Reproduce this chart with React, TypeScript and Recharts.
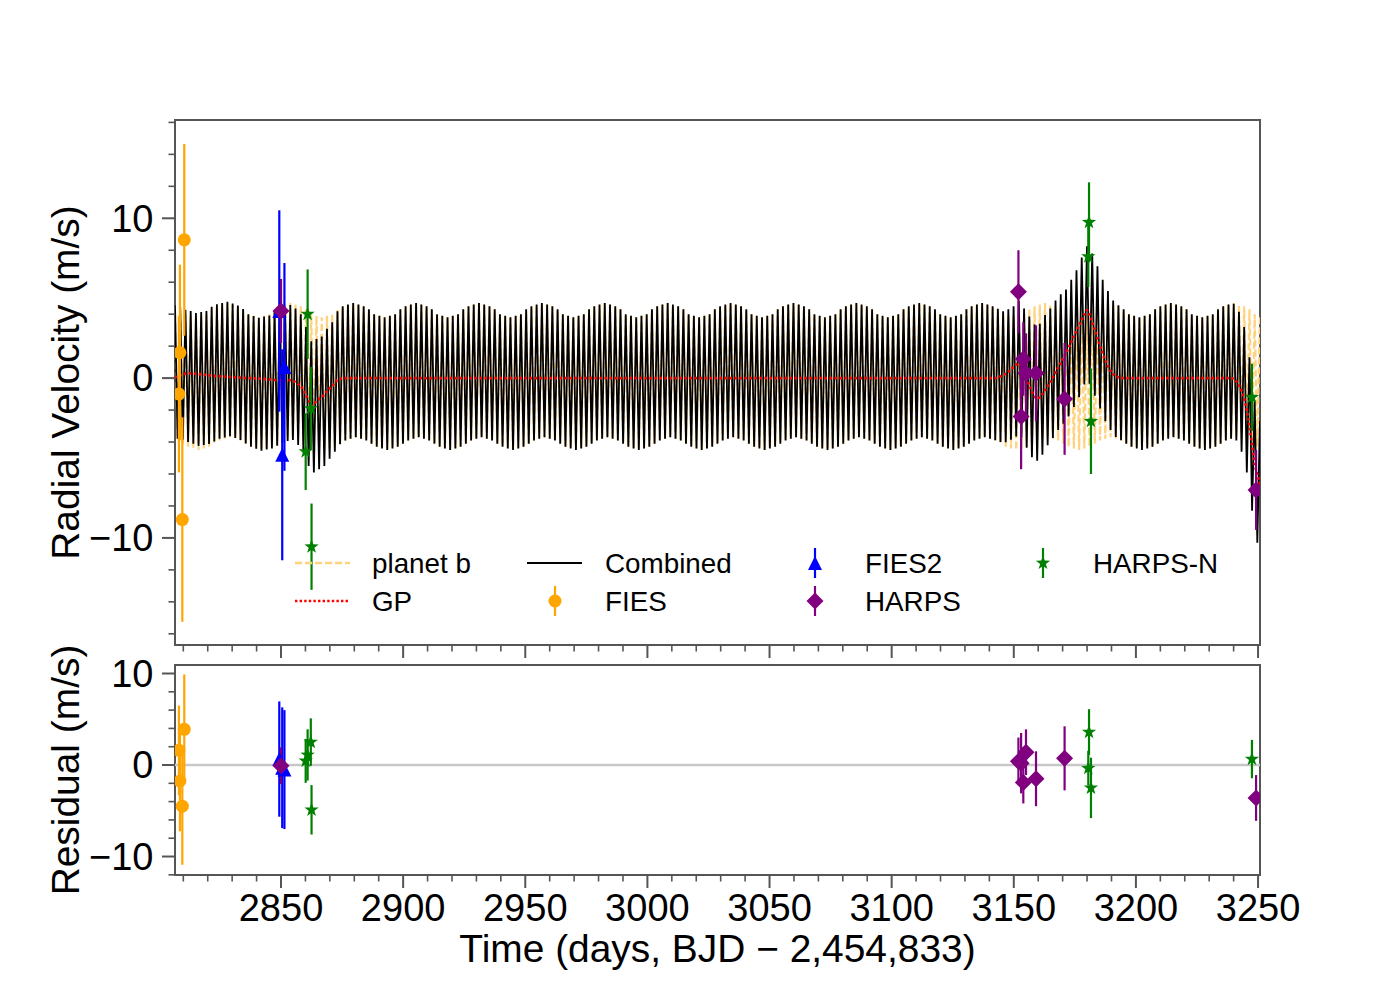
import React from 'react'
import { ComposedChart, Line, Scatter, XAxis, YAxis, ErrorBar, ReferenceLine, ReferenceArea, Legend } from 'recharts'

const FONT = '"Liberation Sans", Arial, Helvetica, sans-serif'
const AXIS = '#555'
const PLANET_COLOR = '#ffd27f'

// model curves, one sample per peak / trough of planet b (every 1.0729 d from 2802.3)
const modelStart = 2802.3
const modelStep = 1.0729

const planetB = [
  4.7, -3.7, 4.6, -3.8, 4.5, -3.9, 4.3, -4.1, 4.0, -4.3, 3.9, -4.4, 3.8, -4.5, 3.9, -4.4, 4.0, -4.3, 4.3, -4.1, 4.5, -3.9, 4.6, -3.8,
  4.7, -3.7, 4.6, -3.8, 4.5, -3.9, 4.3, -4.1, 4.0, -4.3, 3.9, -4.4, 3.8, -4.5, 3.9, -4.4, 4.0, -4.3, 4.3, -4.1, 4.5, -3.9, 4.6, -3.8,
  4.7, -3.7, 4.6, -3.8, 4.5, -3.9, 4.3, -4.1, 4.0, -4.3, 3.9, -4.4, 3.8, -4.5, 3.9, -4.4, 4.0, -4.3, 4.3, -4.1, 4.5, -3.9, 4.6, -3.8,
  4.7, -3.7, 4.6, -3.8, 4.5, -3.9, 4.3, -4.1, 4.0, -4.3, 3.9, -4.4, 3.8, -4.5, 3.9, -4.4, 4.0, -4.3, 4.3, -4.1, 4.5, -3.9, 4.6, -3.8,
  4.7, -3.7, 4.6, -3.8, 4.5, -3.9, 4.3, -4.1, 4.0, -4.3, 3.9, -4.4, 3.8, -4.5, 3.9, -4.4, 4.0, -4.3, 4.3, -4.1, 4.5, -3.9, 4.6, -3.8,
  4.7, -3.7, 4.6, -3.8, 4.5, -3.9, 4.3, -4.1, 4.0, -4.3, 3.9, -4.4, 3.8, -4.5, 3.9, -4.4, 4.0, -4.3, 4.3, -4.1, 4.5, -3.9, 4.6, -3.8,
  4.7, -3.7, 4.6, -3.8, 4.5, -3.9, 4.3, -4.1, 4.0, -4.3, 3.9, -4.4, 3.8, -4.5, 3.9, -4.4, 4.0, -4.3, 4.3, -4.1, 4.5, -3.9, 4.6, -3.8,
  4.7, -3.7, 4.6, -3.8, 4.5, -3.9, 4.3, -4.1, 4.0, -4.3, 3.9, -4.4, 3.8, -4.5, 3.9, -4.4, 4.0, -4.3, 4.3, -4.1, 4.5, -3.9, 4.6, -3.8,
  4.7, -3.7, 4.6, -3.8, 4.5, -3.9, 4.3, -4.1, 4.0, -4.3, 3.9, -4.4, 3.8, -4.5, 3.9, -4.4, 4.0, -4.3, 4.3, -4.1, 4.5, -3.9, 4.6, -3.8,
  4.7, -3.7, 4.6, -3.8, 4.5, -3.9, 4.3, -4.1, 4.0, -4.3, 3.9, -4.4, 3.8, -4.5, 3.9, -4.4, 4.0, -4.3, 4.3, -4.1, 4.5, -3.9, 4.6, -3.8,
  4.7, -3.7, 4.6, -3.8, 4.5, -3.9, 4.3, -4.1, 4.0, -4.3, 3.9, -4.4, 3.8, -4.5, 3.9, -4.4, 4.0, -4.3, 4.3, -4.1, 4.5, -3.9, 4.6, -3.8,
  4.7, -3.7, 4.6, -3.8, 4.5, -3.9, 4.3, -4.1, 4.0, -4.3, 3.9, -4.4, 3.8, -4.5, 3.9, -4.4, 4.0, -4.3, 4.3, -4.1, 4.5, -3.9, 4.6, -3.8,
  4.7, -3.7, 4.6, -3.8, 4.5, -3.9, 4.3, -4.1, 4.0, -4.3, 3.9, -4.4, 3.8, -4.5, 3.9, -4.4, 4.0, -4.3, 4.3, -4.1, 4.5, -3.9, 4.6, -3.8,
  4.7, -3.7, 4.6, -3.8, 4.5, -3.9, 4.3, -4.1, 4.0, -4.3, 3.9, -4.4, 3.8, -4.5, 3.9, -4.4, 4.0, -4.3, 4.3, -4.1, 4.5, -3.9, 4.6, -3.8,
  4.7, -3.7, 4.6, -3.8, 4.5, -3.9, 4.3, -4.1, 4.0, -4.3, 3.9, -4.4, 3.8, -4.5, 3.9, -4.4, 4.0, -4.3, 4.3, -4.1, 4.5, -3.9, 4.6, -3.8,
  4.7, -3.7, 4.6, -3.8, 4.5, -3.9, 4.3, -4.1, 4.0, -4.3, 3.9, -4.4, 3.8, -4.5, 3.9, -4.4, 4.0, -4.3, 4.3, -4.1, 4.5, -3.9, 4.6, -3.8,
  4.7, -3.7, 4.6, -3.8, 4.5, -3.9, 4.3, -4.1, 4.0, -4.3, 3.9, -4.4, 3.8, -4.5, 3.9, -4.4, 4.0, -4.3, 4.3, -4.1, 4.5, -3.9, 4.6, -3.8,
  4.7, -3.7, 4.6, -3.8, 4.5, -3.9, 4.3, -4.1, 4.0, -4.3, 3.9, -4.4,
]

// GP, same samples
const gp = [
  0, 0, 0, 0.02, 0.05, 0.1, 0.17, 0.24, 0.28, 0.3, 0.3, 0.29, 0.27, 0.25, 0.23, 0.21, 0.2, 0.18, 0.16, 0.14, 0.12, 0.11, 0.1, 0.09,
  0.08, 0.07, 0.06, 0.05, 0.04, 0.03, 0.02, 0.01, 0, 0, -0.01, -0.02, -0.03, -0.04, -0.05, -0.07, -0.08, -0.1, -0.12, -0.13, -0.14, -0.15, -0.15, -0.13,
  -0.13, -0.17, -0.25, -0.38, -0.5, -0.75, -1.1, -1.4, -1.7, -1.6, -1.45, -1.3, -1.2, -1.0, -0.82, -0.65, -0.5, -0.3, -0.12, -0.04, 0, 0, 0, 0,
  0, 0, 0, 0, 0, 0, 0, 0, 0, 0, 0, 0, 0, 0, 0, 0, 0, 0, 0, 0, 0, 0, 0, 0,
  0, 0, 0, 0, 0, 0, 0, 0, 0, 0, 0, 0, 0, 0, 0, 0, 0, 0, 0, 0, 0, 0, 0, 0,
  0, 0, 0, 0, 0, 0, 0, 0, 0, 0, 0, 0, 0, 0, 0, 0, 0, 0, 0, 0, 0, 0, 0, 0,
  0, 0, 0, 0, 0, 0, 0, 0, 0, 0, 0, 0, 0, 0, 0, 0, 0, 0, 0, 0, 0, 0, 0, 0,
  0, 0, 0, 0, 0, 0, 0, 0, 0, 0, 0, 0, 0, 0, 0, 0, 0, 0, 0, 0, 0, 0, 0, 0,
  0, 0, 0, 0, 0, 0, 0, 0, 0, 0, 0, 0, 0, 0, 0, 0, 0, 0, 0, 0, 0, 0, 0, 0,
  0, 0, 0, 0, 0, 0, 0, 0, 0, 0, 0, 0, 0, 0, 0, 0, 0, 0, 0, 0, 0, 0, 0, 0,
  0, 0, 0, 0, 0, 0, 0, 0, 0, 0, 0, 0, 0, 0, 0, 0, 0, 0, 0, 0, 0, 0, 0, 0,
  0, 0, 0, 0, 0, 0, 0, 0, 0, 0, 0, 0, 0, 0, 0, 0, 0, 0, 0, 0, 0, 0, 0, 0,
  0, 0, 0, 0, 0, 0, 0, 0, 0, 0, 0, 0, 0, 0, 0, 0, 0, 0, 0, 0, 0, 0, 0, 0,
  0, 0, 0, 0, 0, 0.01, 0.04, 0.1, 0.18, 0.28, 0.4, 0.55, 0.7, 0.85, 0.92, 0.7, 0.35, -0.05, -0.45, -0.85, -1.15, -1.27, -1.2, -1.0,
  -0.75, -0.5, -0.25, 0.05, 0.35, 0.65, 0.95, 1.25, 1.55, 1.9, 2.25, 2.6, 2.95, 3.3, 3.65, 4.0, 4.25, 3.95, 3.5, 3.0, 2.5, 2.0, 1.55, 1.1,
  0.75, 0.45, 0.25, 0.12, 0.05, 0.02, 0, 0, 0, 0, 0, 0, 0, 0, 0, 0, 0, 0, 0, 0, 0, 0, 0, 0,
  0, 0, 0, 0, 0, 0, 0, 0, 0, 0, 0, 0, 0, 0, 0, 0, 0, 0, 0, 0, 0, 0, 0, 0,
  -0.05, -0.2, -0.45, -0.8, -1.3, -2.0, -3.0, -4.2, -5.4, -6.0, -6.6, -7.2,
]

// instruments
const fiesTime = [2808.2, 2808.6, 2809.6, 2810.4]
const fiesRv = [-1.0, 1.6, -8.85, 8.65]
const fiesErr = [4.9, 5.5, 6.4, 6.0]
const fiesResid = [1.6, -1.75, -4.5, 3.9]

const fies2Time = [2849.3, 2850.5, 2851.4]
const fies2Rv = [4.2, -4.8, 0.7]
const fies2Err = [6.3, 6.6, 6.5]
const fies2Resid = [0.65, -0.3, -0.5]

const harpsTime = [2850.0, 3151.9, 3153.0, 3153.9, 3155.0, 3159.1, 3170.8, 3249.2]
const harpsRv = [4.2, 5.4, -2.4, 1.2, 0.3, 0.3, -1.3, -7.0]
const harpsErr = [2.0, 2.6, 3.3, 2.3, 2.5, 3.0, 3.5, 2.5]
const harpsResid = [-0.07, 0.4, 0.2, -1.9, 1.4, -1.5, 0.73, -3.6]

const harpsnTime = [2860.1, 2860.9, 2862.2, 2862.5, 3180.5, 3180.8, 3181.6, 3247.5]
const harpsnRv = [-4.6, 4.0, -1.9, -10.55, 7.6, 9.75, -2.7, -1.2]
const harpsnErr = [2.4, 2.8, 2.6, 2.7, 1.9, 2.5, 3.3, 2.1]
const harpsnResid = [0.45, 1.1, 2.5, -4.9, -0.35, 3.6, -2.5, 0.65]

// axes
const xDomain = [2806.6, 3250.8]
const xTicks = [
  2810, 2820, 2830, 2840, 2850, 2860, 2870, 2880, 2890, 2900, 2910, 2920, 2930, 2940, 2950,
  2960, 2970, 2980, 2990, 3000, 3010, 3020, 3030, 3040, 3050, 3060, 3070, 3080, 3090, 3100,
  3110, 3120, 3130, 3140, 3150, 3160, 3170, 3180, 3190, 3200, 3210, 3220, 3230, 3240, 3250,
]
const xLabels = [2850, 2900, 2950, 3000, 3050, 3100, 3150, 3200, 3250]
const rvDomain = [-16.7, 16.15]
const rvTicks = [-16, -14, -12, -10, -8, -6, -4, -2, 0, 2, 4, 6, 8, 10, 12, 14, 16]
const residDomain = [-12.02, 10.93]
const residTicks = [-12, -10, -8, -6, -4, -2, 0, 2, 4, 6, 8, 10]
const yLabels = [-10, 0, 10]

const modelRows = planetB.map((v, i) => ({
  t: modelStart + i * modelStep,
  planetB: v,
  gp: gp[i],
  combined: v + gp[i],
}))

type Shape = 'circle' | 'triangle' | 'diamond' | 'star'

const instruments = [
  { name: 'FIES', color: '#ffa500', shape: 'circle' as Shape, time: fiesTime, rv: fiesRv, err: fiesErr, resid: fiesResid },
  { name: 'FIES2', color: '#0000ff', shape: 'triangle' as Shape, time: fies2Time, rv: fies2Rv, err: fies2Err, resid: fies2Resid },
  { name: 'HARPS', color: '#800080', shape: 'diamond' as Shape, time: harpsTime, rv: harpsRv, err: harpsErr, resid: harpsResid },
  { name: 'HARPS-N', color: '#008000', shape: 'star' as Shape, time: harpsnTime, rv: harpsnRv, err: harpsnErr, resid: harpsnResid },
]

function Marker({ shape, cx, cy, color }: { shape: Shape; cx: number; cy: number; color: string }) {
  if (cx == null || cy == null) return null
  if (shape === 'circle') return <circle cx={cx} cy={cy} r={6.5} fill={color} />
  if (shape === 'triangle') {
    const r = 7
    return <path d={`M${cx},${cy - r}L${cx + r},${cy + r}L${cx - r},${cy + r}Z`} fill={color} />
  }
  if (shape === 'diamond') {
    const r = 8.5
    return <path d={`M${cx},${cy - r}L${cx + r},${cy}L${cx},${cy + r}L${cx - r},${cy}Z`} fill={color} />
  }
  const pts: string[] = []
  for (let k = 0; k < 10; k++) {
    const a = (-90 + k * 36) * Math.PI / 180
    const r = k % 2 === 0 ? 7.5 : 3
    pts.push(`${cx + r * Math.cos(a)},${cy + r * Math.sin(a)}`)
  }
  return <polygon points={pts.join(' ')} fill={color} />
}

const fmt = (v: number) => (v < 0 ? `\u2212${Math.abs(v)}` : `${v}`)

function XTick(props: any) {
  const { x, y, payload, withText } = props
  const major = xLabels.includes(payload.value)
  return (
    <g>
      <line x1={x} x2={x} y1={y} y2={y + (major ? 13 : 6.5)} stroke={AXIS} strokeWidth={major ? 2 : 1.6} />
      {withText && major && (
        <text x={x} y={y + 46} textAnchor="middle" fontSize={38} fontFamily={FONT} fill="#000">
          {payload.value}
        </text>
      )}
    </g>
  )
}

function YTick(props: any) {
  const { x, y, payload } = props
  const major = yLabels.includes(payload.value)
  return (
    <g>
      <line x1={x - (major ? 13 : 6.5)} x2={x} y1={y} y2={y} stroke={AXIS} strokeWidth={major ? 2 : 1.6} />
      {major && (
        <text x={x - 21.5} y={y} dy="0.35em" textAnchor="end" fontSize={38} fontFamily={FONT} fill="#000">
          {fmt(payload.value)}
        </text>
      )}
    </g>
  )
}

const yTitle = (title: string) => (props: any) => {
  const vb = props.viewBox || { x: 0, y: 0, width: 0, height: 0 }
  const cx = vb.x + 79
  const cy = vb.y + vb.height / 2
  return (
    <text x={cx} y={cy} transform={`rotate(-90 ${cx} ${cy})`} textAnchor="middle" fontSize={38.9} fontFamily={FONT} fill="#000">
      {title}
    </text>
  )
}

const xTitle = (props: any) => {
  const vb = props.viewBox || { x: 0, y: 0, width: 0, height: 0 }
  return (
    <text x={vb.x + vb.width / 2} y={vb.y + 87} textAnchor="middle" fontSize={38.9} fontFamily={FONT} fill="#000">
      Time (days, BJD {'\u2212'} 2,454,833)
    </text>
  )
}

function LegendBox() {
  const r1 = 563
  const r2 = 601
  const text = (x: number, y: number, s: string) => (
    <text x={x} y={y} dy="0.35em" fontSize={27.8} fontFamily={FONT} fill="#000">{s}</text>
  )
  const pointHandle = (cx: number, cy: number, inst: typeof instruments[number]) => (
    <g>
      <line x1={cx} x2={cx} y1={cy - 15} y2={cy + 15} stroke={inst.color} strokeWidth={2.2} />
      <Marker shape={inst.shape} cx={cx} cy={cy} color={inst.color} />
    </g>
  )
  return (
    <svg width={1400} height={660} style={{ position: 'absolute', left: 0, top: 0 }}>
      <line x1={295} x2={350} y1={r1} y2={r1} stroke={PLANET_COLOR} strokeWidth={2.5} strokeDasharray="7 3" />
      {text(372, r1, 'planet b')}
      <line x1={295} x2={350} y1={r2} y2={r2} stroke="#ff0000" strokeWidth={2.4} strokeDasharray="2.4 2.2" />
      {text(372, r2, 'GP')}
      <line x1={527} x2={582} y1={r1} y2={r1} stroke="#000" strokeWidth={2} />
      {text(605, r1, 'Combined')}
      {pointHandle(555, r2, instruments[0])}
      {text(605, r2, 'FIES')}
      {pointHandle(815, r1, instruments[1])}
      {text(865, r1, 'FIES2')}
      {pointHandle(815, r2, instruments[2])}
      {text(865, r2, 'HARPS')}
      {pointHandle(1043, r1, instruments[3])}
      {text(1093, r1, 'HARPS-N')}
    </svg>
  )
}

function pointsOf(inst: typeof instruments[number], key: 'rv' | 'resid') {
  return inst.time.map((t, i) => ({ t, v: inst[key][i], e: inst.err[i] }))
}

export default function App() {
  return (
    <div style={{ position: 'absolute', left: 0, top: 0, width: 1400, height: 1000, background: '#fff', fontFamily: FONT }}>
      <div style={{ position: 'absolute', left: 0, top: 0 }}>
        <ComposedChart width={1400} height={660} data={modelRows} margin={{ top: 120, right: 140, bottom: 0, left: 0 }}>
          <XAxis
            dataKey="t"
            type="number"
            domain={xDomain}
            ticks={xTicks}
            interval={0}
            allowDataOverflow
            height={15}
            axisLine={false}
            tickLine={false}
            tickSize={0}
            tickMargin={0}
            tick={(p: any) => <XTick {...p} withText={false} />}
          />
          <YAxis
            type="number"
            domain={rvDomain}
            ticks={rvTicks}
            interval={0}
            allowDataOverflow
            width={175}
            axisLine={false}
            tickLine={false}
            tickSize={0}
            tickMargin={0}
            tick={(p: any) => <YTick {...p} />}
            label={yTitle('Radial Velocity (m/s)')}
          />
          <Line dataKey="planetB" type="linear" stroke={PLANET_COLOR} strokeWidth={2.2} strokeDasharray="7 3" dot={false} activeDot={false} isAnimationActive={false} />
          <Line dataKey="combined" type="linear" stroke="#000" strokeWidth={1.8} dot={false} activeDot={false} isAnimationActive={false} />
          <Line dataKey="gp" type="monotone" stroke="#ff0000" strokeWidth={2.6} strokeDasharray="2.6 2.4" dot={false} activeDot={false} isAnimationActive={false} />
          {instruments.map((inst) => (
            <Scatter
              key={inst.name}
              name={inst.name}
              data={pointsOf(inst, 'rv')}
              dataKey="v"
              isAnimationActive={false}
              shape={(p: any) => <Marker shape={inst.shape} cx={p.cx} cy={p.cy} color={inst.color} />}
            >
              <ErrorBar dataKey="e" direction="y" width={0} stroke={inst.color} strokeWidth={2.2} isAnimationActive={false} />
            </Scatter>
          ))}
          <ReferenceArea x1={xDomain[0]} x2={xDomain[1]} y1={rvDomain[0]} y2={rvDomain[1]} fill="none" stroke={AXIS} strokeWidth={2} ifOverflow="visible" />
          <Legend
            layout="horizontal"
            verticalAlign="middle"
            align="center"
            content={() => <LegendBox />}
            wrapperStyle={{ position: 'absolute', left: 0, top: 0, width: 1400, height: 660, pointerEvents: 'none' }}
          />
        </ComposedChart>
      </div>
      <div style={{ position: 'absolute', left: 0, top: 600 }}>
        <ComposedChart width={1400} height={400} margin={{ top: 65, right: 140, bottom: 0, left: 0 }}>
          <XAxis
            dataKey="t"
            type="number"
            domain={xDomain}
            ticks={xTicks}
            interval={0}
            allowDataOverflow
            height={125}
            axisLine={false}
            tickLine={false}
            tickSize={0}
            tickMargin={0}
            tick={(p: any) => <XTick {...p} withText />}
            label={xTitle}
          />
          <YAxis
            type="number"
            domain={residDomain}
            ticks={residTicks}
            interval={0}
            allowDataOverflow
            width={175}
            axisLine={false}
            tickLine={false}
            tickSize={0}
            tickMargin={0}
            tick={(p: any) => <YTick {...p} />}
            label={yTitle('Residual (m/s)')}
          />
          <ReferenceLine y={0} stroke="#c8c8c8" strokeWidth={2.5} />
          {instruments.map((inst) => (
            <Scatter
              key={inst.name}
              name={inst.name}
              data={pointsOf(inst, 'resid')}
              dataKey="v"
              isAnimationActive={false}
              shape={(p: any) => <Marker shape={inst.shape} cx={p.cx} cy={p.cy} color={inst.color} />}
            >
              <ErrorBar dataKey="e" direction="y" width={0} stroke={inst.color} strokeWidth={2.2} isAnimationActive={false} />
            </Scatter>
          ))}
          <ReferenceArea x1={xDomain[0]} x2={xDomain[1]} y1={residDomain[0]} y2={residDomain[1]} fill="none" stroke={AXIS} strokeWidth={2} ifOverflow="visible" />
        </ComposedChart>
      </div>
    </div>
  )
}
